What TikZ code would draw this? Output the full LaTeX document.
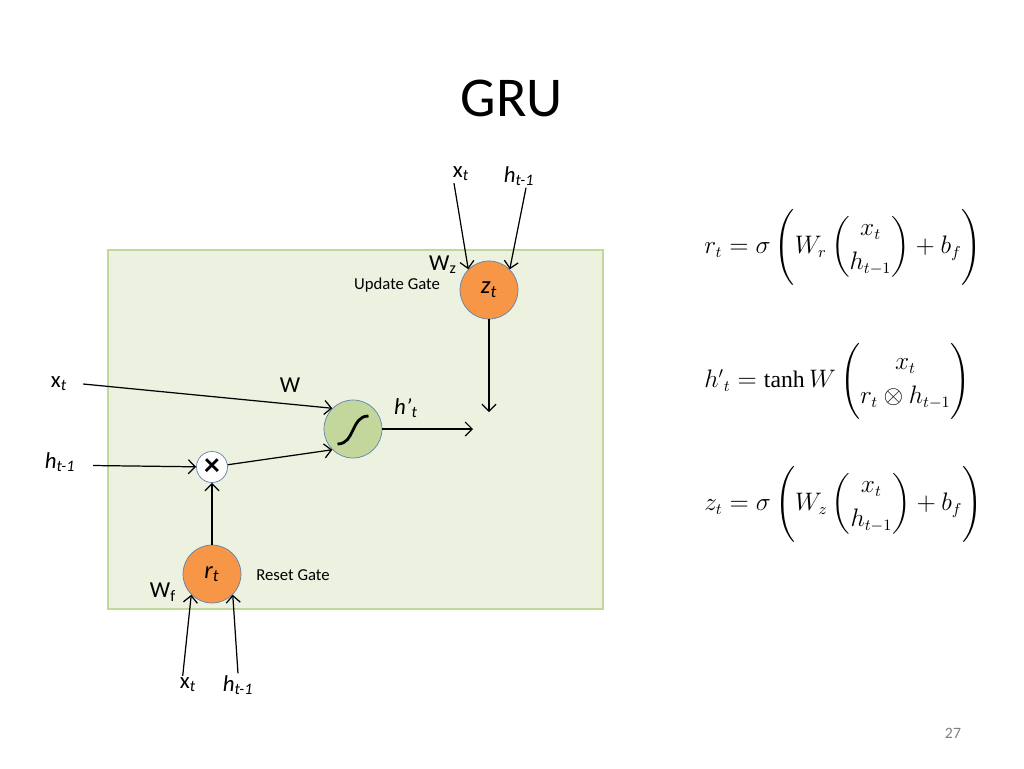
\documentclass[tikz,border=0pt]{standalone}
\usepackage{amsmath}
\usepackage{fontspec}
\setmainfont{Carlito}
\newfontfamily\eqfont{Liberation Serif}
\usetikzlibrary{arrows.meta, positioning}
\definecolor{gateorange}{RGB}{247,150,70}
\definecolor{cellgreen}{RGB}{195,214,155}
\definecolor{panelgreen}{RGB}{236,241,224}
\definecolor{ringblue}{RGB}{95,130,175}

\begin{document}
\begin{tikzpicture}[x=0.02cm, y=-0.02cm,
      gate/.style={circle, draw=ringblue, fill=gateorange, minimum size=1.16cm,
          inner sep=0pt, font=\fontsize{14}{16}\selectfont\itshape},
      cell/.style={circle, draw=ringblue, fill=cellgreen, minimum size=1.16cm, inner sep=0pt},
      prod/.style={circle, draw=ringblue, fill=white, minimum size=0.62cm, inner sep=0pt},
      arr/.style={-{Straight Barb[length=4pt, width=8pt]}, line width=0.7pt},
      lbl/.style={font=\fontsize{13}{15}\selectfont, inner sep=1pt},
      note/.style={font=\fontsize{9.5}{11}\selectfont, inner sep=0pt},
      eqn/.style={font=\fontsize{13.5}{16}\selectfont, inner sep=0pt, anchor=west}
    ]
    \useasboundingbox (0,0) rectangle (1024,768);
    \fill[white] (0,0) rectangle (1024,768);

    \node[font=\fontsize{32}{38}\selectfont] (title) at (512,98) {GRU};

    % panel
    \draw[draw=cellgreen, fill=panelgreen, line width=0.9pt] (108,250) rectangle (603,609);

    \node[gate] (zt)  at (489,290) {z\textsubscript{t}};
    \node[cell] (ht)  at (353,429) {};
    \node[prod] (mul) at (212,467) {\fontsize{18}{18}\selectfont\textbf{×}};
    \node[gate] (rt)  at (212,574) {r\textsubscript{t}};
    \draw[line width=1.6pt] ([shift={(-0.31cm,-0.3cm)}]ht.center) .. controls ([shift={(0.05cm,-0.3cm)}]ht.center)
        and ([shift={(-0.05cm,0.26cm)}]ht.center) .. ([shift={(0.31cm,0.26cm)}]ht.center);

    % labels
    \node[lbl] (xz)  at (461,174) {x\textsubscript{\itshape t}};
    \node[lbl] (hz)  at (519,176) {\itshape h\textsubscript{t-1}};
    \node[lbl] (xh)  at (59,384)  {x\textsubscript{\itshape t}};
    \node[lbl] (hh)  at (60,462)  {\itshape h\textsubscript{t-1}};
    \node[lbl] (xr)  at (188,685) {x\textsubscript{\itshape t}};
    \node[lbl] (hr)  at (238,685) {\itshape h\textsubscript{t-1}};
    \node[lbl] (wz)  at (443,265) {W\textsubscript{z}};
    \node[lbl] (w)   at (290,385) {W};
    \node[lbl] (wf)  at (163,592) {W\textsubscript{f}};
    \node[lbl] (hp)  at (406,408) {\itshape h’\textsubscript{t}};
    \node[note] (upd) at (397,285) {Update Gate};
    \node[note] (rst) at (293,575) {Reset Gate};
    \coordinate (zend) at (489,412);
    \coordinate (hend) at (473,429);

    \draw[arr] ([xshift=-4pt]xz.south) -- (zt.north west);
    \draw[arr] ([xshift=4pt]hz.south) -- (zt.north east);
    \draw[arr] (zt) -- (zend);
    \draw[arr] (ht) -- (hend);
    \draw[arr] ([xshift=8pt]xh.east) -- (ht.north west);
    \draw[arr] ([xshift=9pt, yshift=-2pt]hh.east) -- (mul);
    \draw[arr] (mul) -- (ht.south west);
    \draw[arr] (rt) -- (mul);
    \draw[arr] ([xshift=-3pt]xr.north) -- (rt.south west);
    \draw[arr] (hr.north) -- (rt.south east);

    % equations
    \node[eqn] (eqr) at (704,248)
        {$r_t = \sigma\left( W_r \begin{pmatrix} x_t \\[3pt] h_{t-1} \end{pmatrix} + b_f \rule[-20pt]{0pt}{46pt}\right)$};
    \node[eqn] (eqh) at (704,382)
        {$h'{}_t = \text{\eqfont tanh}\, W \left(\begin{matrix} x_t \\[3pt] r_t \otimes h_{t-1} \end{matrix}\rule[-20pt]{0pt}{46pt}\right)$};
    \node[eqn] (eqz) at (704,505)
        {$z_t = \sigma\left( W_z \begin{pmatrix} x_t \\[3pt] h_{t-1} \end{pmatrix} + b_f \rule[-20pt]{0pt}{46pt}\right)$};

    \node[font=\fontsize{9}{11}\selectfont, text=gray] (page) at (953,733) {27};
  \end{tikzpicture}
\end{document}
